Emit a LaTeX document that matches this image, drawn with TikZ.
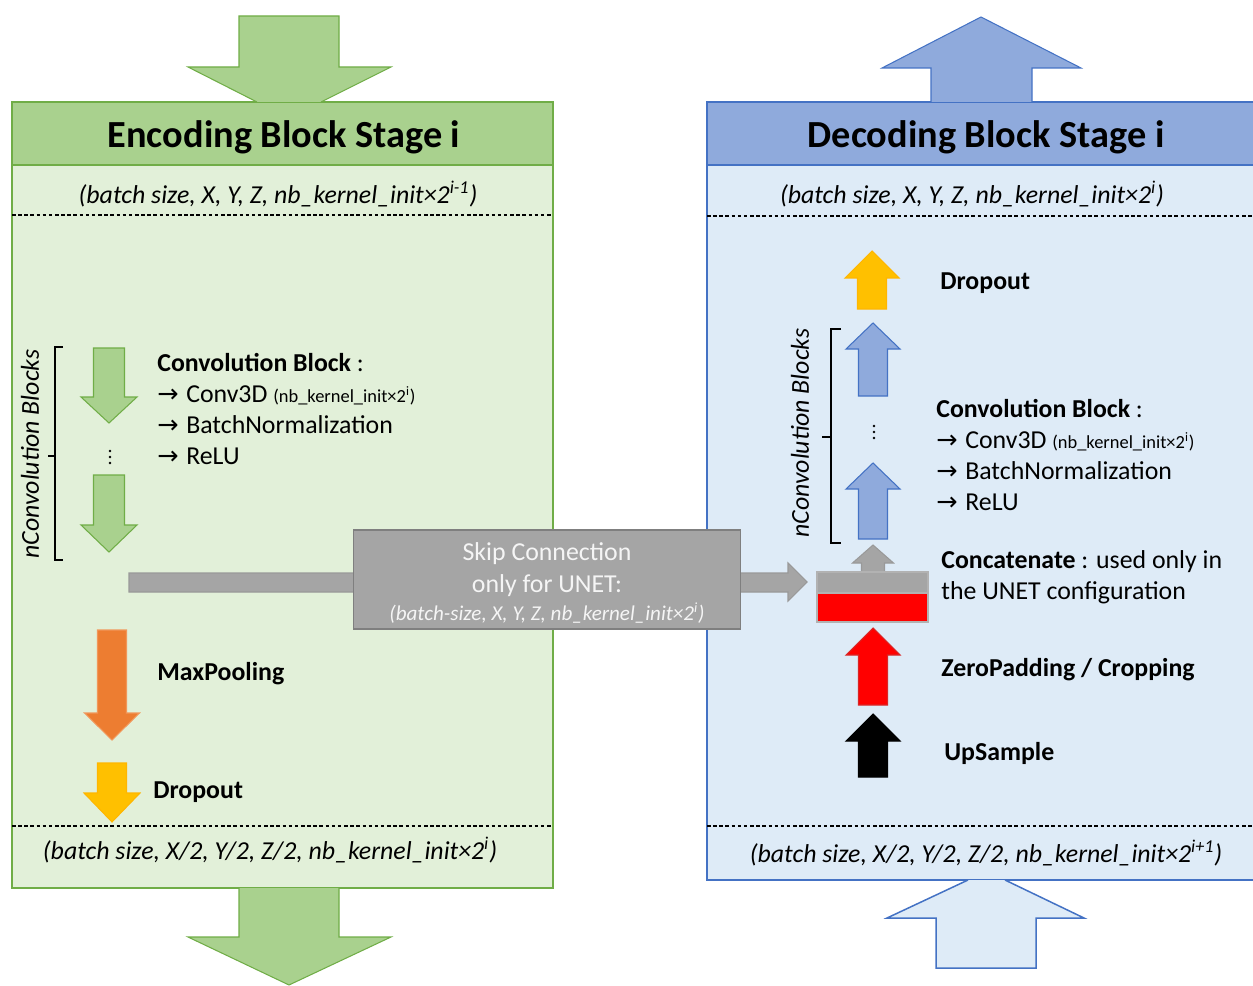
\documentclass[tikz,border=0pt]{standalone}
\usepackage{fontspec}
\setmainfont{Carlito}
\newfontfamily\arrowfont{DejaVu Sans}
\usetikzlibrary{positioning}

\definecolor{encHead}{HTML}{A9D18E}
\definecolor{encBody}{HTML}{E2F0D9}
\definecolor{encLine}{HTML}{70AD47}
\definecolor{decHead}{HTML}{8FAADC}
\definecolor{decBody}{HTML}{DEEBF7}
\definecolor{decLine}{HTML}{4472C4}
\definecolor{poolOrange}{HTML}{ED7D31}
\definecolor{dropYellow}{HTML}{FFC000}
\definecolor{skipGray}{HTML}{A5A5A5}
\definecolor{skipLine}{HTML}{7F7F7F}

% vertical block arrow: style, x, tail y, head base y, tip y, half shaft, half head
\newcommand{\vblockarrow}[7]{%
  \filldraw[#1] (#2-#6,#3) -- (#2-#6,#4) -- (#2-#7,#4) -- (#2,#5) -- (#2+#7,#4) -- (#2+#6,#4) -- (#2+#6,#3) -- cycle;}
\newcommand{\ra}{{\arrowfont\fontsize{14.5}{15}\selectfont →}\kern1pt}

\begin{document}
\begin{tikzpicture}[x=0.02cm, y=-0.02cm]
\tikzset{title/.style={font=\fontsize{21.8}{26}\selectfont\bfseries, inner sep=0pt},
		txt/.style={font=\fontsize{14.7}{17.6}\selectfont, inner sep=0pt, align=left},
		ital/.style={txt, font=\fontsize{14.7}{17.6}\selectfont\itshape},
		bold/.style={txt, anchor=west, font=\fontsize{14.7}{17.6}\selectfont\bfseries},
		encbox/.style={fill=encBody, draw=encLine, line width=0.85pt},
		enchead/.style={fill=encHead, draw=encLine, line width=0.85pt},
		decbox/.style={fill=decBody, draw=decLine, line width=0.85pt},
		sep/.style={dashed, dash pattern=on 2pt off 1.5pt, line width=0.6pt},
		bracket/.style={line width=0.9pt, black},
		greenarr/.style={fill=encHead, draw=encLine, line width=0.6pt},
		bluearr/.style={fill=decHead, draw=decLine, line width=0.6pt},
		orangearr/.style={fill=poolOrange, draw=poolOrange!80!white, line width=0.6pt},
		yellowarr/.style={fill=dropYellow, draw=dropYellow!85!orange, line width=0.6pt},
		redarr/.style={fill=red, draw=red!70!gray, line width=0.6pt},
		blackarr/.style={fill=black, draw=black, line width=0.6pt},
		grayarr/.style={fill=skipGray, draw=skipLine!80!white, line width=0.6pt},
		skipbox/.style={rectangle, fill=skipGray, draw=skipLine, line width=0.7pt, minimum width=7.74cm, minimum height=1.98cm},
		skiptext/.style={align=center, inner sep=0pt, text=white!92!gray, font=\fontsize{14.7}{18}\selectfont}}
\useasboundingbox (0,0) rectangle (1253,986);

% encoding block
\draw[encbox] (12,102) rectangle (553,888);
\draw[enchead] (12,102) rectangle (553,165);
\draw[sep] (12,215) -- (553,215);
\draw[sep] (12,826) -- (553,826);
\filldraw[greenarr] (257,102) -- (188,67) -- (239,67) -- (239,16) -- (339,16) -- (339,67) -- (391,67) -- (321,102);
\filldraw[greenarr] (239,888) -- (239,937) -- (188,937) -- (289,985) -- (391,937) -- (339,937) -- (339,888);
\node[title] (encT) at (284,137) {Encoding Block Stage i};
\node[ital] (encIn) at (278,194) {(batch size, X, Y, Z, nb\_kernel\_init×2\textsuperscript{i-1})};
\node[ital] (encOut) at (270,850) {(batch size, X/2, Y/2, Z/2, nb\_kernel\_init×2\textsuperscript{i})};

% decoding block
\fill[decBody] (707,102) rectangle (1253,880);
\fill[decHead] (707,102) rectangle (1253,165);
\draw[decLine, line width=0.85pt] (1253,102) -- (707,102) -- (707,880) -- (1253,880);
\draw[decLine, line width=0.85pt] (707,165) -- (1253,165);
\draw[sep] (707,216) -- (1253,216);
\draw[sep] (707,826) -- (1253,826);
\filldraw[bluearr] (931,102) -- (931,68) -- (882,68) -- (981,17) -- (1081,68) -- (1032,68) -- (1032,102);
\filldraw[decbox] (968,880) -- (887,918) -- (936,918) -- (936,968) -- (1036,968) -- (1036,918) -- (1084,918) -- (1005,880);
\node[title] (decT) at (986,137) {Decoding Block Stage i};
\node[ital] (decOut) at (972,194) {(batch size, X, Y, Z, nb\_kernel\_init×2\textsuperscript{i})};
\node[ital] (decIn) at (986,853) {(batch size, X/2, Y/2, Z/2, nb\_kernel\_init×2\textsuperscript{i+1})};

% encoding content
\vblockarrow{greenarr}{109}{348}{397}{423}{15.5}{28}
\vblockarrow{greenarr}{109}{475}{525}{552}{15.5}{28}
\foreach \y in {451,457,463} \fill (110,\y) circle (1.3);
\draw[bracket] (63,347) -- (55,347) -- (55,560) -- (63,560);
\draw[bracket] (55,456) -- (48,456);
\node[ital, rotate=90] (nconvL) at (30,454) {nConvolution Blocks};
\node[txt, anchor=west] (convL) at (157,409) {\textbf{Convolution Block} :\\
  \ra{} Conv3D {\fontsize{10.5}{12}\selectfont (nb\_kernel\_init×2\textsuperscript{i})}\\
  \ra{} BatchNormalization\\
  \ra{} ReLU};
\vblockarrow{orangearr}{112}{630}{713}{740}{14.5}{27.5}
\node[bold] (poolL) at (157,674) {MaxPooling};
\vblockarrow{yellowarr}{112}{763}{793}{822}{14.5}{28}
\node[bold] (dropL) at (153,792) {Dropout};

% skip connection
\filldraw[grayarr] (129,573) -- (788,573) -- (788,563) -- (807,582) -- (788,601) -- (788,592) -- (129,592) -- cycle;
\node[skipbox] (skip) at (547,579.5) {};
\node[skiptext] (skipT) at (547,583) {Skip Connection\\only for UNET:\\[-2pt]
  {\fontsize{12}{14}\selectfont\itshape (batch-size, X, Y, Z, nb\_kernel\_init×2\textsuperscript{i})}};

% decoding content
\vblockarrow{blackarr}{873}{777}{741}{714}{14.5}{27}
\node[bold] (upR) at (944,753) {UpSample};
\vblockarrow{redarr}{873}{705}{655}{628}{14.5}{27}
\node[bold] (padR) at (941,670) {ZeroPadding / Cropping};
\vblockarrow{grayarr}{873}{572}{563}{545}{11.5}{20.5}
\filldraw[fill=skipGray, draw=skipLine!60!white, line width=0.6pt] (817,572) rectangle (928,593);
\filldraw[fill=red, draw=skipLine!60!white, line width=0.6pt] (817,593) rectangle (928,622);
\node[txt, anchor=west] (catR) at (941,577) {\textbf{Concatenate} : used only in\\the UNET configuration};
\vblockarrow{bluearr}{873}{539}{489}{463}{14.5}{27}
\foreach \y in {426,432,438} \fill (874,\y) circle (1.3);
\vblockarrow{bluearr}{873}{396}{349}{323}{14.5}{27}
\draw[bracket] (841,329) -- (831,329) -- (831,543) -- (841,543);
\draw[bracket] (831,437) -- (822,437);
\node[ital, rotate=90] (nconvR) at (800,433) {nConvolution Blocks};
\node[txt, anchor=west] (convR) at (936,455) {\textbf{Convolution Block} :\\
  \ra{} Conv3D {\fontsize{10.5}{12}\selectfont (nb\_kernel\_init×2\textsuperscript{i})}\\
  \ra{} BatchNormalization\\
  \ra{} ReLU};
\vblockarrow{yellowarr}{872}{309}{278}{251}{14.5}{27}
\node[bold] (dropR) at (940,283) {Dropout};
\end{tikzpicture}
\end{document}
